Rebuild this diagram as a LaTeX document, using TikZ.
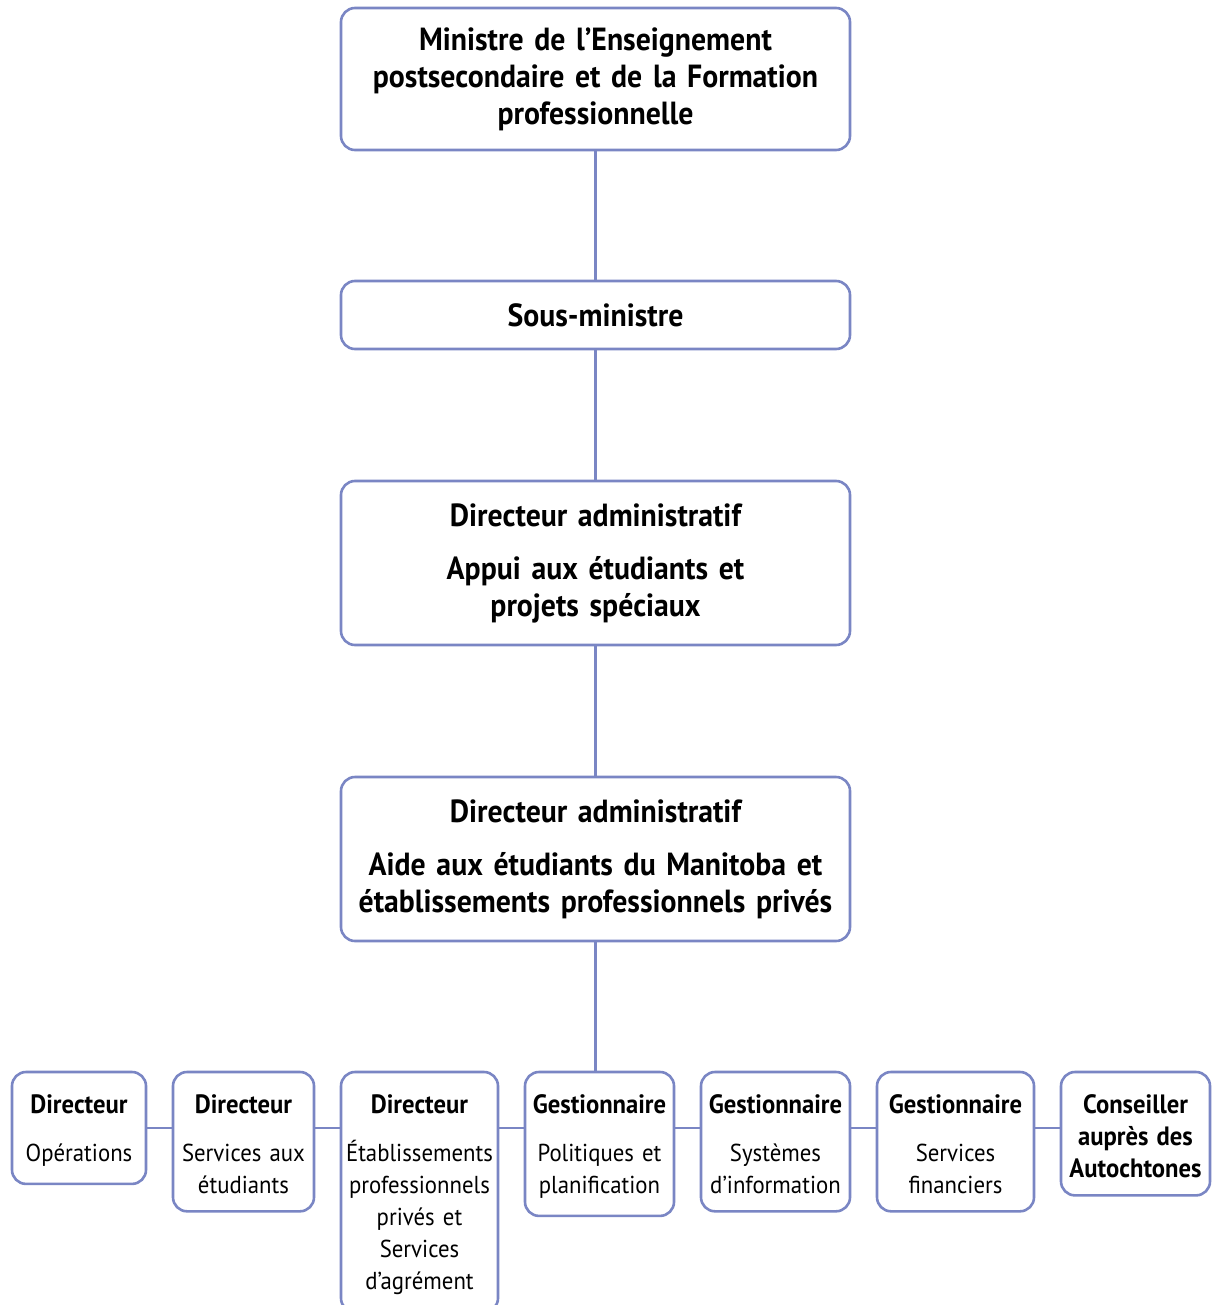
\documentclass[tikz,border=0pt]{standalone}
\usepackage{fontspec}
\setmainfont{PT Sans}[FakeStretch=0.93, WordSpace=0.85]
\usepackage{tikz}
\usetikzlibrary{positioning}
\definecolor{linkblue}{HTML}{7A86C4}
\newcommand{\head}[1]{{\fontsize{26.5}{32}\selectfont\bfseries\rule{0pt}{23pt}#1}}
\tikzset{
    box/.style={
        rectangle, draw=linkblue, line width=2.6pt,
        rounded corners=14pt, outer sep=0pt,
        align=center, inner xsep=0pt, fill=white
    },
    chief/.style={
        box,
        text width=509pt,
        font=\fontsize{32}{37}\selectfont\bfseries
    },
    unit/.style={
        box,
        text width=#1, inner ysep=18pt,
        font=\fontsize{24.5}{32}\selectfont
    },
    link/.style={
        draw=linkblue, line width=2.6pt
    },
}

\begin{document}
\begin{tikzpicture}
        \useasboundingbox (0,0) rectangle (1218pt,-1305pt);

        \node[chief, minimum height=142pt] (min) at (595.5pt,-79pt)
            {Ministre de l’Enseignement\\postsecondaire et de la Formation\\professionnelle};
        \node[chief, minimum height=68pt, below=131pt of min] (sous) {Sous-ministre};
        \node[chief, minimum height=164pt, below=132pt of sous] (appui)
            {Directeur administratif\\[16pt]Appui aux étudiants et\\projets spéciaux};
        \node[chief, minimum height=164pt, below=132pt of appui] (aem)
            {Directeur administratif\\[16pt]Aide aux étudiants du Manitoba et\\établissements professionnels privés};

        \node[unit=134pt, anchor=north west] (ops) at (12pt,-1072pt)
            {\head{Directeur}\\[16pt]Opérations};
        \node[unit=141pt, right=27pt of ops.north east, anchor=north west] (stud)
            {\head{Directeur}\\[16pt]Services aux\\étudiants};
        \node[unit=157pt, right=27pt of stud.north east, anchor=north west] (etab)
            {\head{Directeur}\\[16pt]Établissements\\professionnels\\privés et\\Services\\d’agrément};
        \node[unit=149pt, right=27pt of etab.north east, anchor=north west] (pol)
            {\head{Gestionnaire}\\[16pt]Politiques et\\planification};
        \node[unit=149pt, right=27pt of pol.north east, anchor=north west] (sys)
            {\head{Gestionnaire}\\[16pt]Systèmes\\d’information};
        \node[unit=157pt, right=27pt of sys.north east, anchor=north west] (fin)
            {\head{Gestionnaire}\\[16pt]Services\\financiers};
        \node[unit=149pt, right=27pt of fin.north east, anchor=north west] (auto)
            {\head{Conseiller}\\\head{auprès des}\\\head{Autochtones}};

        \draw[link] (min) -- (sous);
        \draw[link] (sous) -- (appui);
        \draw[link] (appui) -- (aem);
        \draw[link] (aem.south) -- (aem.south |- pol.north);

        \foreach \a/\b in {ops/stud, stud/etab, etab/pol, pol/sys, sys/fin, fin/auto}
            \draw[link] (\a.east |- ops.east) -- (\b.west |- ops.east);
    \end{tikzpicture}
\end{document}
